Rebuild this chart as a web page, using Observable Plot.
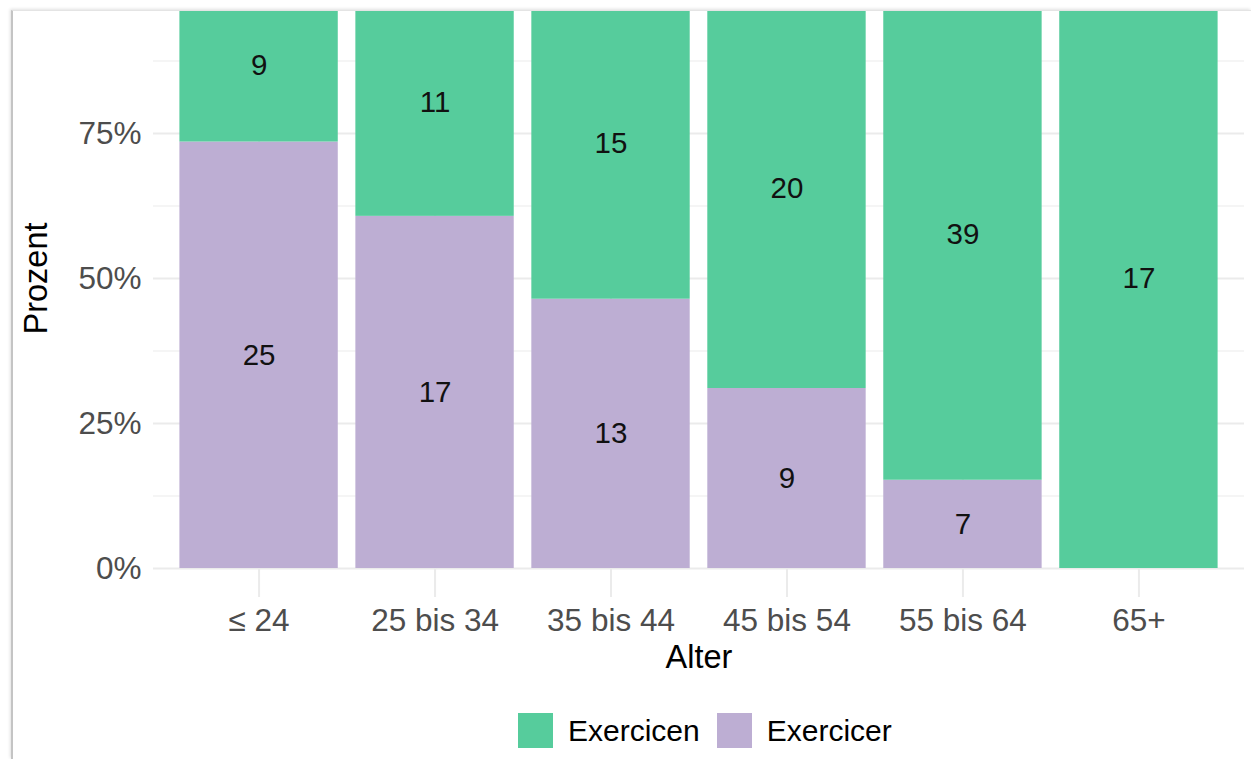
<!DOCTYPE html>
<html>
<head>
<meta charset="utf-8">
<script src="https://cdn.jsdelivr.net/npm/d3@7"></script>
<script src="https://cdn.jsdelivr.net/npm/@observablehq/plot@0.6"></script>
<style>
  html, body { margin: 0; padding: 0; background: #fff; width: 1251px; height: 759px; overflow: hidden; position: relative; }
  #frame { position: absolute; left: 11px; top: 10px; width: 1238px; height: 748px; overflow: hidden;
           border-left: 2px solid #c4c4c4; border-top: 1px solid #e4e4e4; box-shadow: -1px -1px 3px rgba(0,0,0,0.12); background: #fff; }
  #chart { position: absolute; left: -13px; top: -52px; }
  #legend { position: absolute; left: 518px; top: 713px; display: flex; align-items: center;
            font-family: "Liberation Sans", Arial, sans-serif; font-size: 30px; color: #000; }
  #legend .sw { width: 35px; height: 35px; display: inline-block; }
  #legend .lab { margin-left: 15px; margin-right: 17px; line-height: 35px; }
</style>
</head>
<body>
<div id="frame"><div id="chart"></div></div>
<div id="legend"></div>
<script>
// ---- data ----
const ages = ["≤ 24", "25 bis 34", "35 bis 44", "45 bis 54", "55 bis 64", "65+"];
const exercicer = [25, 17, 13, 9, 7, 0];
const exercicen = [9, 11, 15, 20, 39, 17];
const groups = ["Exercicen", "Exercicer"];
const groupColors = ["#56CC9C", "#BDAED3"];
const yTicks = [0, 0.25, 0.5, 0.75, 1];
const yMinorTicks = [0.125, 0.375, 0.625, 0.875];

// long table: Exercicer first so it stacks at the bottom
const rows = [];
ages.forEach((a, i) => {
  rows.push({age: a, group: "Exercicer", n: exercicer[i]});
  rows.push({age: a, group: "Exercicen", n: exercicen[i]});
});

const grid = "#EBEBEB";
const chart = Plot.plot({
  width: 1251,
  height: 800,
  marginLeft: 153,
  marginRight: 7,
  marginTop: 0,
  marginBottom: 162,
  style: {fontFamily: "Liberation Sans, Arial, sans-serif", fontSize: "31.5px", color: "#4D4D4D", background: "transparent"},
  x: {domain: ages, paddingInner: 0.1, paddingOuter: 0.15, align: 0.5, round: false},
  y: {domain: [-0.05, 1.05]},
  color: {domain: groups, range: groupColors},
  marks: [
    Plot.ruleY(yMinorTicks, {stroke: grid, strokeWidth: 1}),
    Plot.ruleY(yTicks, {stroke: grid, strokeWidth: 2}),
    Plot.gridX({stroke: grid, strokeWidth: 2, strokeOpacity: 1}),
    Plot.barY(rows, Plot.stackY({x: "age", y: "n", fill: "group", order: null, offset: "normalize"})),
    Plot.text(rows, Plot.stackY({x: "age", y: "n", z: "group", text: "n", offset: "normalize",
      filter: d => d.n > 0, fill: "#111", fontSize: 29.5})),
    Plot.axisY({ticks: yTicks.slice(0, 4), tickFormat: d3.format(".0%"), tickSize: 0, tickPadding: 12, label: null, fontSize: 31.5}),
    Plot.axisX({tickSize: 0, tickPadding: 11, label: null, fontSize: 31.5}),
    Plot.text(["Prozent"], {frameAnchor: "left", textAnchor: "middle", lineAnchor: "middle", rotate: -90, dx: -117, fill: "#000", fontSize: 32.5}),
    Plot.text(["Alter"], {frameAnchor: "bottom", textAnchor: "middle", dy: 70, fill: "#000", fontSize: 32.5})
  ]
});
document.getElementById("chart").appendChild(chart);

// legend
const leg = document.getElementById("legend");
groups.forEach((g, i) => {
  const sw = document.createElement("span");
  sw.className = "sw";
  sw.style.background = groupColors[i];
  const lab = document.createElement("span");
  lab.className = "lab";
  lab.textContent = g;
  leg.appendChild(sw);
  leg.appendChild(lab);
});
</script>
</body>
</html>
